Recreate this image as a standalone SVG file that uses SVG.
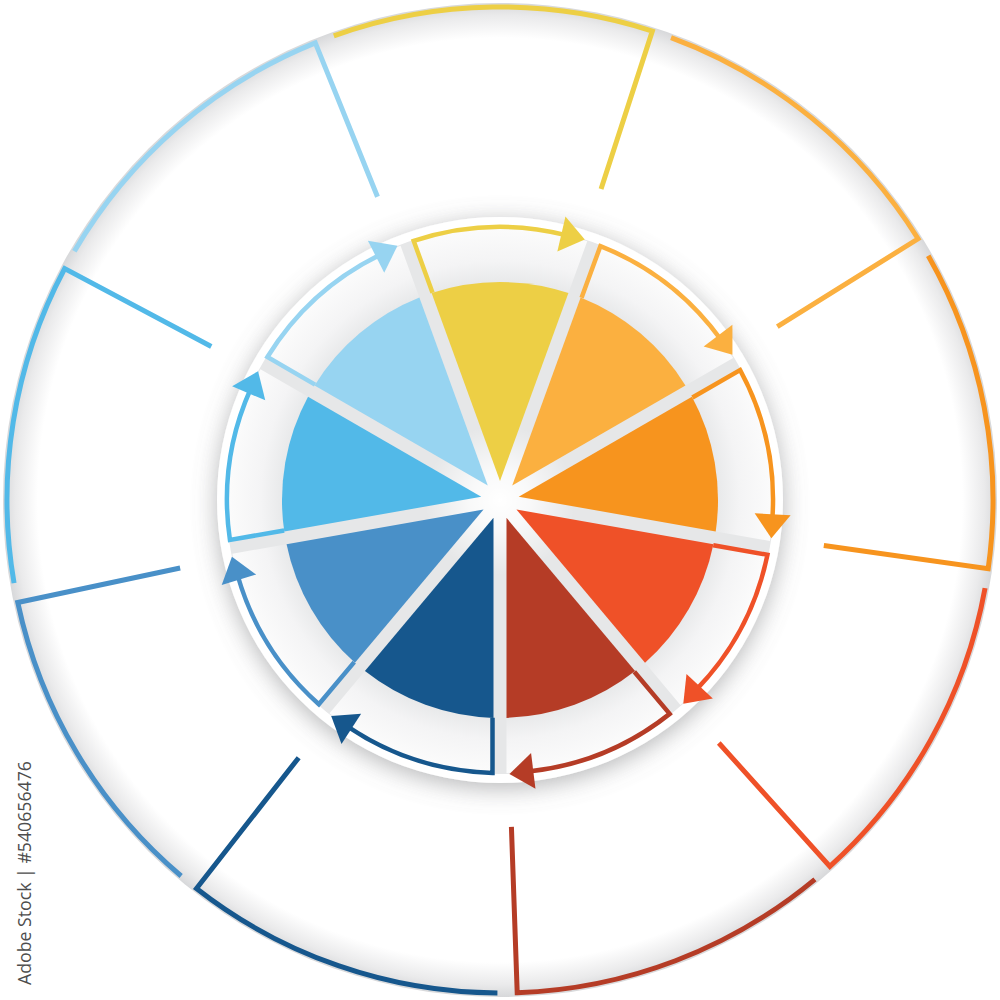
<svg xmlns="http://www.w3.org/2000/svg" xmlns:xlink="http://www.w3.org/1999/xlink" width="1000" height="1000" viewBox="0 0 1000 1000">
<defs>
<style>
.cell{fill:url(#cellGrad)}
.wedge{fill:currentColor}
.outline{fill:none;stroke:currentColor;stroke-width:5;stroke-linejoin:miter}
.link{fill:none;stroke:currentColor;stroke-width:4.5;stroke-linejoin:miter}
.head{fill:currentColor}
.credit{font-family:'Open Sans','Noto Sans',sans-serif;font-size:18px;fill:#4d4d4d}
</style>
<radialGradient id="rim" gradientUnits="userSpaceOnUse" cx="500" cy="500" r="497">
<stop offset="0" stop-color="#ffffff"/>
<stop offset="0.93" stop-color="#ffffff"/>
<stop offset="0.975" stop-color="#eaeaeb"/>
<stop offset="1" stop-color="#d7d8da"/>
</radialGradient>
<radialGradient id="cellGrad" gradientUnits="userSpaceOnUse" cx="500" cy="500" r="275">
<stop offset="0.79" stop-color="#e8e9ea"/>
<stop offset="0.87" stop-color="#f4f4f5"/>
<stop offset="1" stop-color="#fcfcfc"/>
</radialGradient>
<radialGradient id="glow" gradientUnits="userSpaceOnUse" cx="500" cy="500" r="75">
<stop offset="0" stop-color="#ffffff" stop-opacity="1"/>
<stop offset="0.4" stop-color="#ffffff" stop-opacity="0.75"/>
<stop offset="1" stop-color="#ffffff" stop-opacity="0"/>
</radialGradient>
<filter id="shadow" x="-25%" y="-25%" width="150%" height="150%">
<feGaussianBlur in="SourceAlpha" stdDeviation="12"/>
<feOffset dy="5" result="b"/>
<feFlood flood-color="#6d6e71" flood-opacity="0.5"/>
<feComposite in2="b" operator="in"/>
<feMerge><feMergeNode/><feMergeNode in="SourceGraphic"/></feMerge>
</filter>
<path id="cellShape" d="M432.53,292.71 L413.71,240.99 A273,273 0 0 1 587.24,241.32 L568.42,293.02 A218,218 0 0 0 432.53,292.71 Z"/>
<path id="wedgeShape" d="M500,481 L431.58,293.02 A218,218 0 0 1 568.42,293.02 Z"/>
<path id="outlineShape" d="M333.81,35.86 A493,493 0 0 1 652.35,31.13 L601.05,189"/>
<path id="linkShape" d="M432.53,292.71 L413.71,240.99 A273,273 0 0 1 566.04,235.11"/>
<path id="headShape" d="M584.79,239.4 L565.46,216.46 L557.36,251.54 Z"/>
</defs>

<g id="background">
<rect width="1000" height="1000" fill="#ffffff"/>
<circle cx="500" cy="500" r="497" fill="url(#rim)"/>
<circle cx="500" cy="500" r="283" fill="#ffffff" filter="url(#shadow)"/>
<circle cx="500" cy="500" r="274" fill="#e6e7e8"/>
<circle cx="500" cy="500" r="75" fill="url(#glow)"/>
</g>

<g id="node-1" style="color:#EDCF45" transform="rotate(0 500 500)">
<use xlink:href="#cellShape" class="cell"/><use xlink:href="#wedgeShape" class="wedge"/><use xlink:href="#outlineShape" class="outline"/>
</g>
<g id="node-2" style="color:#FBB040" transform="rotate(40 500 500)">
<use xlink:href="#cellShape" class="cell"/><use xlink:href="#wedgeShape" class="wedge"/><use xlink:href="#outlineShape" class="outline"/>
</g>
<g id="node-3" style="color:#F7941E" transform="rotate(80 500 500)">
<use xlink:href="#cellShape" class="cell"/><use xlink:href="#wedgeShape" class="wedge"/><use xlink:href="#outlineShape" class="outline"/>
</g>
<g id="node-4" style="color:#EF5128" transform="rotate(120 500 500)">
<use xlink:href="#cellShape" class="cell"/><use xlink:href="#wedgeShape" class="wedge"/><use xlink:href="#outlineShape" class="outline"/>
</g>
<g id="node-5" style="color:#B53C26" transform="rotate(160 500 500)">
<use xlink:href="#cellShape" class="cell"/><use xlink:href="#wedgeShape" class="wedge"/><use xlink:href="#outlineShape" class="outline"/>
</g>
<g id="node-6" style="color:#16578D" transform="rotate(200 500 500)">
<use xlink:href="#cellShape" class="cell"/><use xlink:href="#wedgeShape" class="wedge"/><use xlink:href="#outlineShape" class="outline"/>
</g>
<g id="node-7" style="color:#4990C8" transform="rotate(240 500 500)">
<use xlink:href="#cellShape" class="cell"/><use xlink:href="#wedgeShape" class="wedge"/><use xlink:href="#outlineShape" class="outline"/>
</g>
<g id="node-8" style="color:#52B9E8" transform="rotate(280 500 500)">
<use xlink:href="#cellShape" class="cell"/><use xlink:href="#wedgeShape" class="wedge"/><use xlink:href="#outlineShape" class="outline"/>
</g>
<g id="node-9" style="color:#97D4F1" transform="rotate(320 500 500)">
<use xlink:href="#cellShape" class="cell"/><use xlink:href="#wedgeShape" class="wedge"/><use xlink:href="#outlineShape" class="outline"/>
</g>

<g id="connectors">
<g style="color:#EDCF45" transform="rotate(0 500 500)"><use xlink:href="#linkShape" class="link"/><use xlink:href="#headShape" class="head"/></g>
<g style="color:#FBB040" transform="rotate(40 500 500)"><use xlink:href="#linkShape" class="link"/><use xlink:href="#headShape" class="head"/></g>
<g style="color:#F7941E" transform="rotate(80 500 500)"><use xlink:href="#linkShape" class="link"/><use xlink:href="#headShape" class="head"/></g>
<g style="color:#EF5128" transform="rotate(120 500 500)"><use xlink:href="#linkShape" class="link"/><use xlink:href="#headShape" class="head"/></g>
<g style="color:#B53C26" transform="rotate(160 500 500)"><use xlink:href="#linkShape" class="link"/><use xlink:href="#headShape" class="head"/></g>
<g style="color:#16578D" transform="rotate(200 500 500)"><use xlink:href="#linkShape" class="link"/><use xlink:href="#headShape" class="head"/></g>
<g style="color:#4990C8" transform="rotate(240 500 500)"><use xlink:href="#linkShape" class="link"/><use xlink:href="#headShape" class="head"/></g>
<g style="color:#52B9E8" transform="rotate(280 500 500)"><use xlink:href="#linkShape" class="link"/><use xlink:href="#headShape" class="head"/></g>
<g style="color:#97D4F1" transform="rotate(320 500 500)"><use xlink:href="#linkShape" class="link"/><use xlink:href="#headShape" class="head"/></g>
</g>

<text class="credit" transform="translate(31 985) rotate(-90)" textLength="224" lengthAdjust="spacingAndGlyphs">Adobe Stock | #540656476</text>
</svg>
